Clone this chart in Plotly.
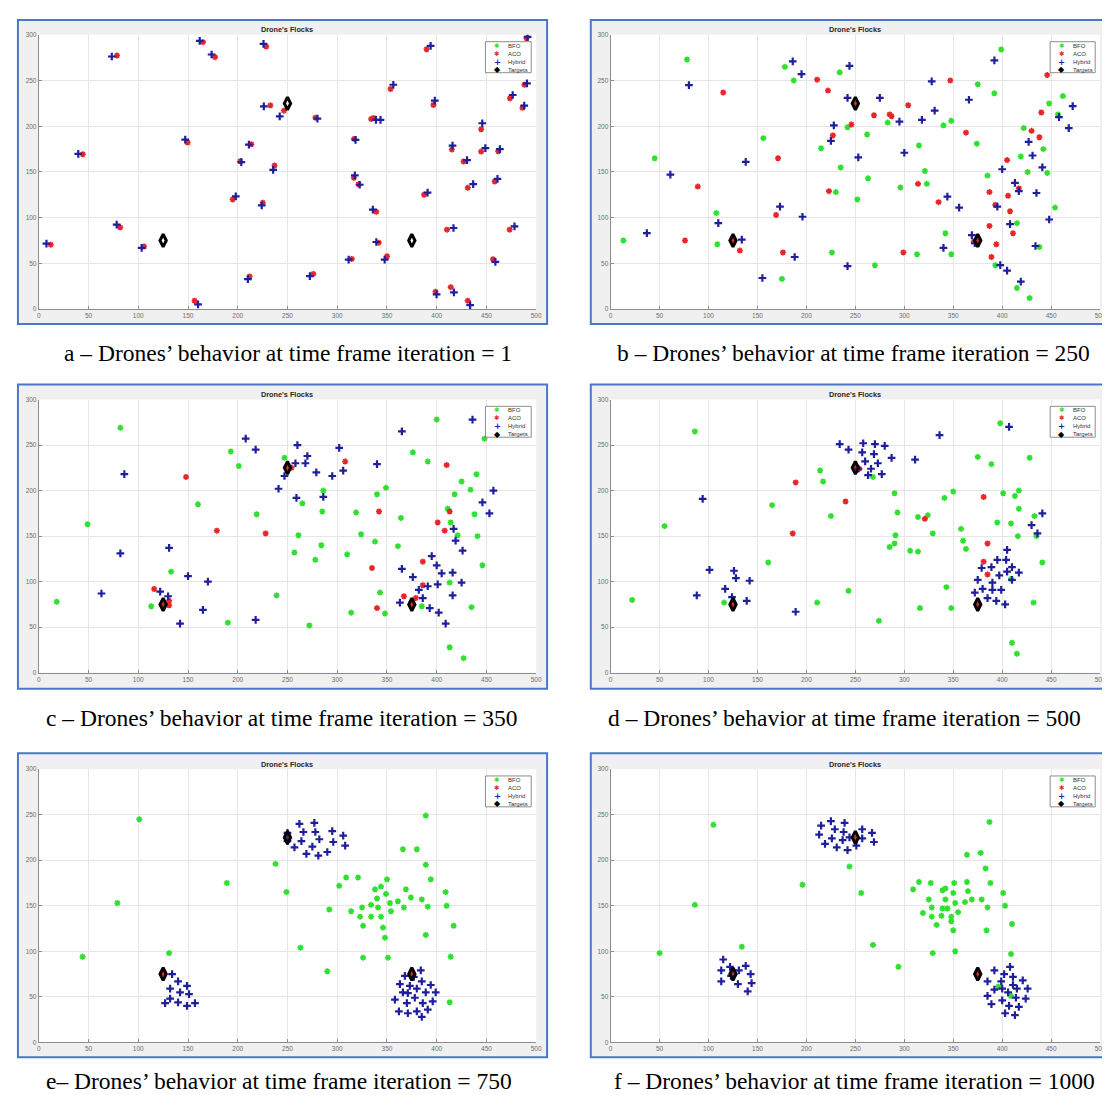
import plotly.graph_objects as go

W, H = 1110, 1095

# ---------------- data ----------------
targets = [(125, 75), (250, 225), (375, 75)]

# Panel a : iteration 1
a_bfo = []
a_aco = [(12, 70.5), (78.6, 277.4), (44.2, 169.4), (81.8, 89.4), (105.8, 68.4), (149.6, 182.2), (165, 292),
         (177.1, 275.6), (156.6, 9.1), (194.9, 120), (202.5, 161.8), (213.7, 180.4), (211.9, 35.6), (228.6, 287.2),
         (232.8, 222.9), (225.2, 116.4), (237, 157.1), (246.4, 217.1), (278.1, 209.4), (276, 38.5), (314.6, 54.9),
         (317, 186.2), (316.7, 143.6), (321.5, 136.5), (334.1, 208), (336.5, 209.1), (339.3, 106.5), (341.7, 72.7),
         (350.1, 57.8), (353.6, 240.7), (389.8, 284.3), (396.7, 223.3), (387.3, 125.1), (398.8, 18.9), (410.3, 86.9),
         (415.2, 174.5), (414.1, 24), (427, 161.4), (431.2, 132.7), (431.2, 9.1), (444.7, 196.7), (444.7, 172.3),
         (458.3, 139.6), (456.6, 54.5), (461.8, 172.7), (473.6, 230.5), (488.2, 245.4), (486.2, 220.3),
         (490.3, 296.3), (473.3, 86.9)]
a_hyb = [(7.7, 71.6), (73.4, 276.3), (39.7, 169.8), (78.3, 92.4), (103.4, 66.9), (147.2, 185.4), (161.8, 293.4),
         (173.7, 278.5), (160.1, 5.1), (198, 123.3), (203.6, 160.7), (211.2, 180), (210.2, 32.7), (225.9, 290.2),
         (226.2, 221.8), (224.1, 113.4), (235.6, 152.3), (242.2, 210.9), (280.1, 208.4), (272.5, 36), (311.5, 54.2),
         (318.4, 185.1), (317.7, 146.2), (322.6, 136), (338.9, 206.9), (343.5, 206.9), (335.8, 108.7), (339.3, 73.4),
         (347.7, 54.2), (356.4, 245.4), (393.9, 288), (398.1, 228), (390.8, 127.3), (399.9, 16), (416.9, 88.7),
         (415.9, 178.9), (417.3, 18.2), (430.5, 162.9), (436.7, 136.7), (433.6, 4.4), (445.8, 203.3), (448.9, 176),
         (461.1, 142.5), (459, 51.6), (463.5, 174.9), (476.4, 234.2), (490.7, 246.9), (488, 222.5), (491.4, 297.8),
         (478.2, 90.5)]

# Panel b : iteration 250
b_bfo = [(78, 273), (178, 265), (187, 250), (234, 259), (399, 284), (375, 246), (392, 236), (462, 233), (448, 225),
         (457, 213), (422, 198), (348, 206), (340, 201), (283, 204), (242, 199), (262, 191), (215, 176), (156, 187),
         (45, 165), (235, 155), (263, 143), (296, 133), (315, 179), (321, 151), (323, 137), (230, 128), (252, 120),
         (374, 181), (385, 146), (419, 167), (442, 175), (426, 150), (446, 149), (454, 111), (415, 94), (438, 68),
         (393, 48), (415, 23), (428, 12), (342, 83), (348, 60), (313, 60), (270, 48), (226, 62), (175, 33),
         (108, 105), (109, 71), (13, 75)]
b_aco = [(211, 251), (222, 239), (115, 237), (246, 202), (269, 212), (285, 213), (287, 211), (304, 223), (227, 190),
         (89, 134), (171, 165), (223, 129), (169, 103), (76, 75), (132, 64), (176, 62), (299, 62), (314, 137),
         (335, 117), (347, 250), (363, 193), (446, 256), (440, 215), (430, 195), (438, 188), (405, 163), (387, 128),
         (406, 124), (417, 132), (393, 114), (408, 107), (387, 91), (411, 83), (394, 71), (389, 57), (371, 74),
         (125, 75), (250, 225), (375, 75)]
b_hyb = [(186, 271), (195, 257), (244, 266), (80, 245), (242, 231), (275, 231), (228, 201), (225, 184), (253, 166),
         (138, 161), (61, 147), (295, 205), (300, 171), (318, 207), (328, 249), (331, 217), (366, 229), (392, 272),
         (472, 222), (458, 210), (468, 198), (427, 183), (431, 168), (441, 155), (400, 153), (413, 138), (417, 129),
         (435, 127), (344, 123), (356, 111), (395, 112), (408, 93), (448, 98), (434, 69), (369, 81), (340, 67),
         (372, 72), (398, 48), (405, 42), (419, 30), (242, 47), (188, 57), (155, 34), (173, 112), (196, 101),
         (110, 94), (37, 83), (134, 76)]

# Panel c : iteration 350
c_bfo = [(82, 269), (49, 163), (18, 78), (113, 73), (133, 111), (160, 185), (193, 243), (201, 227), (219, 174),
         (190, 55), (239, 85), (247, 236), (265, 186), (261, 151), (257, 132), (272, 52), (278, 124), (284, 140),
         (285, 177), (286, 200), (319, 176), (324, 152), (310, 130), (314, 66), (338, 144), (340, 196), (349, 203),
         (343, 88), (348, 65), (361, 139), (364, 170), (376, 242), (391, 232), (400, 278), (385, 73), (448, 257),
         (440, 218), (425, 210), (434, 201), (418, 196), (411, 180), (414, 165), (421, 151), (438, 174), (441, 150),
         (446, 118), (413, 99), (435, 72), (413, 28), (427, 16)]
c_aco = [(148, 215), (179, 156), (228, 153), (254, 225), (308, 232), (410, 228), (342, 177), (335, 115), (340, 71),
         (413, 177), (401, 165), (408, 156), (386, 122), (367, 84), (379, 82), (386, 96), (375, 77), (116, 92),
         (131, 79), (131, 74), (125, 75), (250, 225), (375, 75)]
c_hyb = [(86, 218), (82, 131), (63, 87), (131, 137), (122, 89), (130, 84), (150, 106), (142, 54), (170, 100),
         (165, 69), (218, 58), (208, 257), (218, 245), (241, 202), (247, 216), (259, 192), (258, 230), (260, 250),
         (268, 230), (270, 238), (279, 220), (286, 193), (295, 216), (302, 247), (306, 222), (340, 229), (365, 265),
         (436, 278), (457, 200), (446, 187), (453, 175), (417, 158), (419, 145), (426, 134), (395, 128), (400, 118),
         (405, 109), (416, 110), (425, 99), (401, 97), (391, 95), (382, 91), (386, 82), (416, 85), (393, 71),
         (402, 66), (409, 54), (365, 114), (376, 105), (363, 77)]

# Panel d : iteration 500
d_bfo = [(86, 265), (55, 161), (22, 80), (116, 77), (161, 121), (165, 184), (214, 222), (217, 210), (225, 172),
         (211, 77), (243, 90), (268, 215), (274, 57), (290, 197), (293, 176), (291, 151), (290, 142), (285, 138),
         (306, 134), (314, 133), (314, 171), (324, 173), (329, 153), (316, 71), (341, 192), (350, 199), (343, 94),
         (348, 71), (358, 158), (360, 145), (363, 136), (375, 237), (389, 229), (398, 274), (395, 165), (401, 197),
         (413, 194), (417, 200), (417, 180), (409, 164), (416, 150), (428, 236), (433, 172), (435, 150), (441, 121),
         (432, 77), (410, 33), (415, 21), (409, 103)]
d_aco = [(189, 209), (240, 188), (186, 153), (254, 224), (321, 169), (381, 193), (385, 142), (381, 122), (385, 108),
         (125, 75), (250, 225), (375, 75)]
d_hyb = [(94, 191), (88, 85), (101, 113), (126, 112), (128, 104), (142, 101), (117, 92), (124, 83), (139, 79),
         (189, 67), (234, 251), (243, 245), (258, 252), (270, 251), (280, 249), (257, 242), (269, 240), (260, 232),
         (287, 236), (273, 230), (266, 224), (263, 217), (277, 218), (253, 224), (311, 234), (336, 261), (407, 270),
         (441, 175), (430, 162), (436, 153), (405, 135), (395, 124), (404, 124), (379, 115), (389, 116), (410, 116),
         (405, 111), (417, 110), (397, 107), (375, 102), (390, 99), (410, 102), (380, 92), (390, 91), (399, 91),
         (372, 88), (385, 82), (394, 79), (403, 75)]

# Panel e : iteration 750
e_bfo = [(44, 94), (79, 153), (101, 245), (131, 98), (189, 175), (238, 196), (249, 165), (263, 104), (290, 78),
         (292, 146), (302, 172), (309, 181), (321, 181), (350, 179), (366, 212), (380, 212), (389, 249), (389, 195),
         (394, 179), (409, 165), (410, 150), (417, 128), (414, 94), (413, 44), (389, 118), (391, 149), (385, 157),
         (374, 159), (369, 168), (367, 148), (361, 155), (353, 153), (354, 144), (349, 163), (344, 171), (340, 158),
         (338, 168), (341, 148), (344, 138), (346, 126), (348, 115), (334, 151), (334, 138), (325, 148), (323, 138),
         (314, 144), (326, 128), (326, 93), (351, 93)]
e_aco = [(125, 75), (250, 225), (375, 75)]
e_hyb = [(250, 230), (250, 221), (262, 240), (277, 241), (266, 231), (278, 231), (295, 232), (306, 227), (264, 221),
         (282, 223), (257, 214), (275, 215), (296, 220), (308, 216), (269, 207), (281, 205), (290, 209),
         (134, 75), (140, 67), (132, 59), (149, 62), (142, 55), (151, 53), (132, 48), (127, 43), (140, 44),
         (149, 40), (157, 43),
         (384, 79), (368, 73), (377, 72), (385, 67), (363, 64), (373, 62), (394, 63), (380, 59), (366, 55),
         (371, 54), (389, 55), (399, 55), (378, 49), (358, 47), (370, 43), (396, 45), (386, 43), (362, 34),
         (371, 32), (380, 34), (391, 36), (385, 28)]

# Panel f : iteration 1000
f_bfo = [(50, 98), (86, 151), (105, 239), (134, 105), (196, 173), (244, 193), (256, 164), (268, 107), (294, 83),
         (309, 168), (315, 176), (327, 175), (319, 142), (325, 157), (328, 148), (328, 138), (333, 129), (329, 98),
         (339, 167), (342, 169), (342, 157), (339, 147), (338, 139), (344, 147), (348, 138), (348, 133), (350, 164),
         (351, 175), (352, 153), (350, 123), (352, 100), (355, 143), (362, 154), (364, 206), (364, 176), (365, 166),
         (369, 157), (378, 208), (379, 157), (383, 191), (385, 148), (384, 123), (387, 242), (388, 175), (401, 164),
         (403, 150), (410, 130), (409, 97), (396, 61), (409, 51)]
f_aco = [(125, 75), (250, 225), (375, 75)]
f_hyb = [(215, 238), (225, 243), (239, 241), (229, 234), (238, 231), (257, 234), (267, 230), (213, 228), (226, 224),
         (237, 222), (244, 225), (257, 224), (219, 218), (231, 214), (242, 211), (251, 216), (269, 220),
         (115, 91), (122, 83), (113, 79), (131, 79), (138, 84), (143, 75), (113, 67), (130, 64), (144, 65),
         (140, 56), (123, 73),
         (392, 79), (408, 83), (402, 75), (411, 72), (421, 68), (385, 67), (399, 67), (411, 63), (392, 58),
         (400, 59), (415, 59), (426, 59), (406, 55), (385, 51), (400, 46), (414, 49), (424, 48), (389, 42),
         (407, 40), (417, 39), (403, 32), (413, 30)]

captions = ["a \u2013 Drones\u2019 behavior at time frame iteration = 1",
            "b \u2013 Drones\u2019 behavior at time frame iteration = 250",
            "c \u2013 Drones\u2019 behavior at time frame iteration = 350",
            "d \u2013 Drones\u2019 behavior at time frame iteration = 500",
            "e\u2013 Drones\u2019 behavior at time frame iteration = 750",
            "f \u2013 Drones\u2019 behavior at time frame iteration = 1000"]
panel_title = "Drone's Flocks"
legend_labels = ["BFO", "ACO", "Hybrid", "Targets"]
x_ticks = list(range(0, 501, 50))
y_ticks = list(range(0, 301, 50))

panels = [(a_bfo, a_aco, a_hyb), (b_bfo, b_aco, b_hyb), (c_bfo, c_aco, c_hyb),
          (d_bfo, d_aco, d_hyb), (e_bfo, e_aco, e_hyb), (f_bfo, f_aco, f_hyb)]

# ---------------- layout geometry (pixels) ----------------
cols_x = [(29, 530), (605, 1098)]
rows_y = [(23, 299), (390, 665), (762, 1037)]
border_x = [(8, 541), (585, 1120)]
border_y = [(8, 314), (375, 681), (746, 1052)]
caption_y = [343, 711, 1076]
caption_x = [280, 850, 274, 841, 271, 851]

C_BFO = "#2fe02f"
C_ACO = "#e8262a"
C_HYB = "#1f1f9e"


def px(x):
    return x / W


def py(y):
    return 1 - y / H


def xy(pts):
    return [p[0] for p in pts], [p[1] for p in pts]


fig = go.Figure()
shapes_bg = []
shapes_plot = []
shapes_fg = []
annotations = []
layout = {}

for i, (bfo, aco, hyb) in enumerate(panels):
    r, c = divmod(i, 2)
    sfx = "" if i == 0 else str(i + 1)
    xa, ya = "x" + sfx, "y" + sfx
    x0, x1 = cols_x[c]
    y0, y1 = rows_y[r]

    axis_common = dict(showgrid=True, gridcolor="#e6e6e6", gridwidth=1, zeroline=False,
                       showline=True, linecolor="#8c8c8c", linewidth=1,
                       ticks="inside", ticklen=3, tickcolor="#8c8c8c",
                       tickfont=dict(family="Liberation Sans", size=6.5, color="#6e6e6e"),
                       fixedrange=True)
    layout["xaxis" + sfx] = dict(domain=[px(x0), px(x1)], range=[0, 500], tickvals=x_ticks,
                                 anchor=ya, **axis_common)
    layout["yaxis" + sfx] = dict(domain=[py(y1), py(y0)], range=[0, 300], tickvals=y_ticks,
                                 anchor=xa, **axis_common)

    bx, by = xy(bfo)
    fig.add_trace(go.Scatter(x=bx, y=by, mode="markers", xaxis=xa, yaxis=ya, name="BFO", showlegend=False,
                             marker=dict(symbol="asterisk-open", size=5, color=C_BFO,
                                         line=dict(width=1.6, color=C_BFO))))
    ax_, ay_ = xy(aco)
    fig.add_trace(go.Scatter(x=ax_, y=ay_, mode="markers", xaxis=xa, yaxis=ya, name="ACO", showlegend=False,
                             marker=dict(symbol="asterisk-open", size=5, color=C_ACO,
                                         line=dict(width=1.6, color=C_ACO))))
    hx, hy = xy(hyb)
    fig.add_trace(go.Scatter(x=hx, y=hy, mode="markers", xaxis=xa, yaxis=ya, name="Hybrid", showlegend=False,
                             marker=dict(symbol="cross-thin-open", size=5.5, color=C_HYB,
                                         line=dict(width=2.2, color=C_HYB))))
    tx, ty = xy(targets)
    fig.add_trace(go.Scatter(x=tx, y=ty, mode="markers", xaxis=xa, yaxis=ya, name="Targets", showlegend=False,
                             marker=dict(symbol="diamond-tall-open", size=9, color="#000000",
                                         line=dict(width=3, color="#000000"))))

    # panel frame (figure window) and white axes area
    shapes_bg.append(dict(type="rect", xref="paper", yref="paper", layer="below",
                          x0=px(border_x[c][0]), x1=px(border_x[c][1]),
                          y0=py(border_y[r][1]), y1=py(border_y[r][0]),
                          fillcolor="#f0f0f0", line=dict(color="#4a78c8", width=2)))
    shapes_plot.append(dict(type="rect", xref="paper", yref="paper", layer="below",
                            x0=px(x0), x1=px(x1), y0=py(y1), y1=py(y0),
                            fillcolor="#ffffff", line=dict(width=0)))
    # title
    annotations.append(dict(text="<b>" + panel_title + "</b>", xref="paper", yref="paper",
                            x=px((x0 + x1) / 2), y=py(y0 - 5), xanchor="center", yanchor="middle",
                            showarrow=False, font=dict(family="Liberation Sans", size=7.3, color="#262626")))
    # caption
    annotations.append(dict(text=captions[i], xref="paper", yref="paper",
                            x=px(caption_x[i]), y=py(caption_y[r]), xanchor="center", yanchor="middle",
                            showarrow=False, font=dict(family="Liberation Serif", size=23.5, color="#000000")))
    # legend box
    shapes_fg.append(dict(type="rect", xref=xa + " domain", yref=ya + " domain",
                          x0=0.898, x1=0.990, y0=0.862, y1=0.975,
                          fillcolor="#ffffff", line=dict(color="#707070", width=0.8)))
    sym = [("\u2731", C_BFO, 6.5), ("\u2731", C_ACO, 6.5), ("<b>+</b>", C_HYB, 8.5), ("<b>\u25c6</b>", "#000000", 8)]
    for k, lab in enumerate(legend_labels):
        yy = 0.960 - k * 0.029
        s, col, sz = sym[k]
        annotations.append(dict(text=s, xref=xa + " domain", yref=ya + " domain", x=0.922, y=yy,
                                xanchor="center", yanchor="middle", showarrow=False,
                                font=dict(family="DejaVu Sans", size=sz, color=col)))
        annotations.append(dict(text=lab, xref=xa + " domain", yref=ya + " domain", x=0.940, y=yy,
                                xanchor="left", yanchor="middle", showarrow=False,
                                font=dict(family="Liberation Sans", size=6, color="#333333")))

fig.update_layout(width=W, height=H, margin=dict(l=0, r=0, t=0, b=0), paper_bgcolor="#ffffff",
                  plot_bgcolor="#ffffff", showlegend=False,
                  shapes=shapes_bg + shapes_plot + shapes_fg, annotations=annotations, **layout)

fig.write_html("out.html")
